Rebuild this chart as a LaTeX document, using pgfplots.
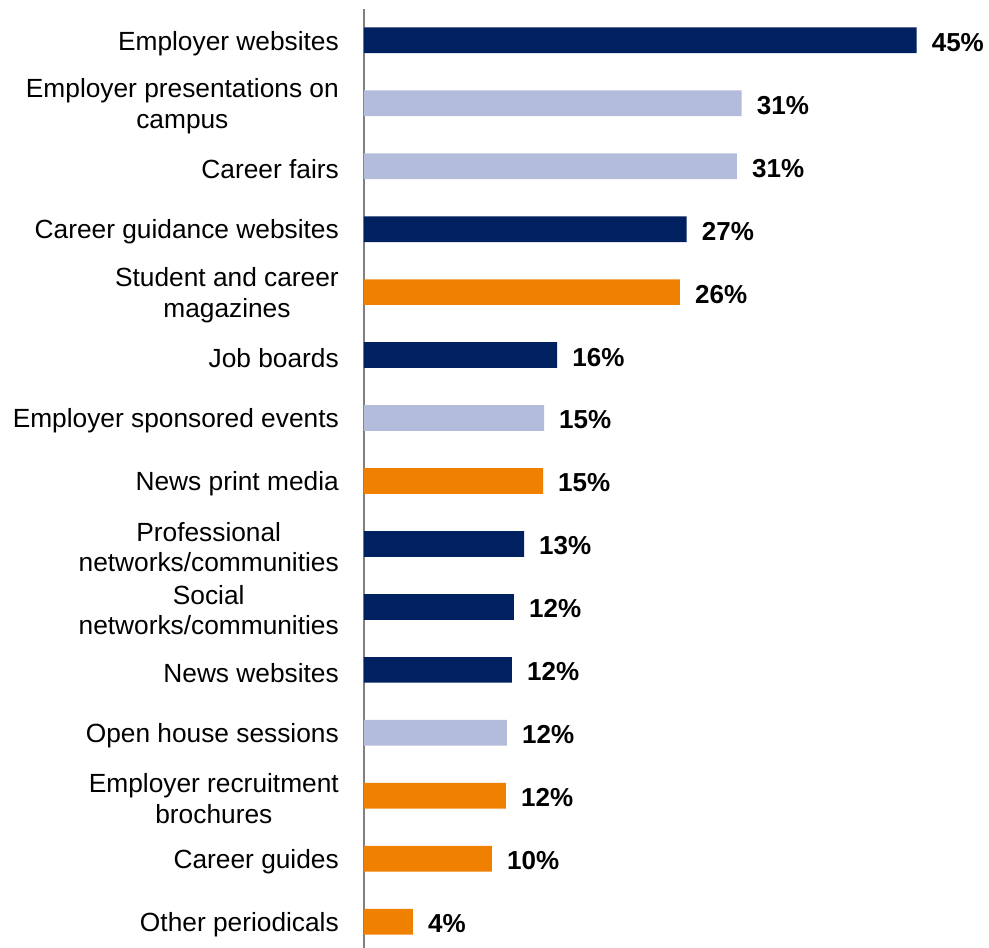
\documentclass[border=0pt]{standalone}
\usepackage{fontspec}
\setmainfont{Liberation Sans}
\usepackage{pgfplots}
\usepackage{pgfplotstable}
\pgfplotsset{compat=1.18}

\definecolor{navy}{RGB}{0,32,96}
\definecolor{lavender}{RGB}{180,188,220}
\definecolor{orng}{RGB}{240,128,0}

% row = position from the top, v = bar length, lab = printed value
\pgfplotstableread{
r v lab
0 45.00 45
3 26.28 27
5 15.73 16
8 13.03 13
9 12.21 12
10 12.05 12
}\navytab
\pgfplotstableread{
r v lab
1 30.76 31
2 30.37 31
6 14.66 15
11 11.64 12
}\lavtab
\pgfplotstableread{
r v lab
4 25.73 26
7 14.58 15
12 11.56 12
13 10.42 10
14 3.99 4
}\orgtab

\begin{document}
\begin{tikzpicture}
\begin{axis}[
    name=ax,
    scale only axis,
    width=614pt, height=944.4pt,
    xmin=0, xmax=50,
    ymin=-0.5, ymax=14.5,
    y dir=reverse,
    axis x line=none,
    axis y line*=left,
    y axis line style={draw=gray, line width=1.2pt},
    ytick={0,...,14},
    yticklabels={Employer websites,
        {Employer presentations on\\campus},
        Career fairs,
        Career guidance websites,
        {Student and career\\magazines},
        Job boards,
        Employer sponsored events,
        News print media,
        {Professional\\networks/communities},
        {Social\\networks/communities},
        News websites,
        Open house sessions,
        {Employer recruitment\\brochures},
        Career guides,
        Other periodicals},
    major tick length=0pt,
    yticklabel style={align=center, inner sep=0pt, xshift=-25pt, yshift=-3pt,
        font=\fontsize{26.3}{30.5}\selectfont},
    xbar, bar width=25.7pt, bar shift=0pt,
    point meta=explicit symbolic,
    nodes near coords={\pgfplotspointmeta\%},
    every node near coord/.append style={anchor=west, inner sep=0pt, xshift=15pt, yshift=-2pt,
        font=\fontsize{26}{30}\selectfont\bfseries, text=black},
    clip=false,
]
\addplot[fill=navy, draw=none] table[x=v, y=r, meta=lab] {\navytab};
\addplot[fill=lavender, draw=none] table[x=v, y=r, meta=lab] {\lavtab};
\addplot[fill=orng, draw=none] table[x=v, y=r, meta=lab] {\orgtab};
\end{axis}
\pgfresetboundingbox
\useasboundingbox ([shift={(-364pt,8.8pt)}]ax.north west) rectangle ++(989pt,-948pt);
\end{tikzpicture}
\end{document}
